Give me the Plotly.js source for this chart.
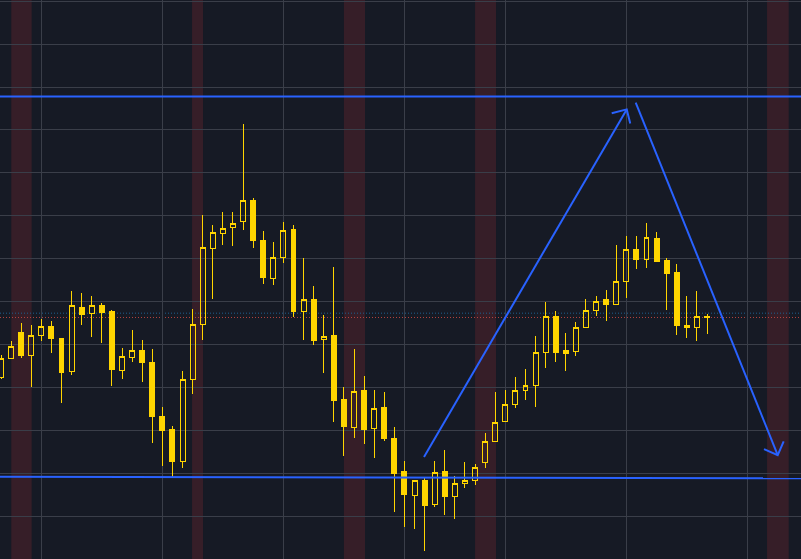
<!DOCTYPE html>
<html>
<head>
<meta charset="utf-8">
<script src="https://cdn.plot.ly/plotly-3.0.1.min.js"></script>
<style>
html,body{margin:0;padding:0;background:#161a25;overflow:hidden;}
#chart{width:801px;height:559px;}
#chart path.box{shape-rendering:crispEdges;}
#chart .gridlayer path{shape-rendering:crispEdges;}
</style>
</head>
<body>
<div id="chart"></div>
<script>
// Candle OHLC values (oldest -> newest)
const openVals = [2312.3,2316.7,2322.9,2317.4,2322.1,2324.1,2321.3,2313.7,2328.7,2327.2,
2329.2,2327.8,2314.0,2317.0,2318.7,2315.9,2303.3,2300.1,2292.8,2311.9,
2324.6,2342.3,2345.8,2347.3,2348.6,2353.6,2344.3,2335.3,2340.3,2346.9,
2327.6,2330.6,2321.1,2322.1,2307.1,2300.6,2309.2,2300.4,2305.4,2298.2,
2290.3,2284.8,2288.2,2282.7,2290.5,2284.6,2287.6,2288.2,2292.5,2297.3,
2302.1,2306.1,2309.2,2310.5,2318.1,2326.6,2318.5,2318.3,2324.0,2328.0,
2330.4,2329.4,2334.7,2342.2,2339.9,2344.8,2339.6,2336.8,2324.5,2324.0,
2326.6];
const highVals = [2317.6,2320.8,2325.0,2324.5,2325.9,2325.5,2321.4,2332.5,2332.0,2331.3,
2329.7,2328.0,2319.2,2323.4,2321.0,2319.0,2305.4,2301.0,2313.8,2328.3,
2350.2,2347.9,2350.9,2350.9,2371.4,2354.1,2346.5,2343.9,2348.6,2347.9,
2340.2,2333.6,2326.9,2338.1,2310.1,2319.0,2312.7,2309.4,2308.9,2300.8,
2292.8,2288.4,2289.1,2292.8,2295.4,2289.3,2292.6,2292.1,2299.4,2308.9,
2309.4,2312.4,2314.3,2322.0,2329.9,2327.8,2322.7,2325.2,2330.6,2331.3,
2332.7,2343.2,2345.3,2345.3,2348.3,2346.2,2340.1,2338.8,2331.3,2332.5,
2327.0];
const lowVals = [2312.0,2316.6,2316.9,2310.2,2320.7,2318.1,2306.4,2313.0,2324.6,2321.8,
2320.4,2310.4,2312.0,2316.0,2311.3,2297.1,2291.7,2289.0,2291.3,2308.4,
2321.0,2330.7,2343.3,2343.0,2346.8,2342.6,2334.2,2333.9,2339.1,2326.5,
2321.1,2319.9,2313.4,2301.9,2294.0,2298.3,2296.9,2293.5,2297.6,2281.0,
2277.5,2277.1,2271.9,2282.2,2280.3,2279.4,2286.6,2287.2,2291.3,2297.2,
2302.0,2305.3,2307.1,2305.5,2314.6,2315.9,2313.8,2317.4,2323.9,2326.7,
2325.5,2329.3,2330.9,2337.7,2337.9,2339.2,2328.1,2322.3,2321.6,2320.7,
2322.5];
const closeVals = [2316.8,2319.6,2317.4,2322.1,2324.1,2321.4,2313.4,2329.0,2326.9,2329.2,
2327.4,2314.1,2317.3,2318.6,2315.8,2303.2,2299.9,2292.7,2311.9,2324.7,
2342.5,2346.2,2347.1,2348.3,2353.6,2344.2,2335.6,2340.3,2346.6,2327.6,
2330.5,2320.9,2321.9,2306.9,2300.8,2309.1,2300.3,2305.1,2298.0,2289.9,
2285.0,2288.2,2282.4,2290.2,2284.5,2287.7,2288.3,2291.4,2297.4,2301.9,
2306.1,2309.3,2310.5,2318.2,2326.6,2318.1,2318.0,2324.0,2328.0,2330.1,
2329.3,2334.7,2342.2,2339.9,2345.0,2339.3,2336.6,2324.4,2323.9,2326.6,
2326.3];

// Session bands (bar-index units)
const bandStart = [1.02, 18.94, 34.0, 47.0, 75.95];
const bandEnd   = [3.04, 20.03, 36.09, 49.08, 78.1];

// Time-grid positions (bar index)
const timeGridIdx = [4, 16, 28, 40, 50, 62, 74];

// Price lines
const markPrice = 2327.3;
const lastPrice = 2326.3;

// Drawn horizontal levels
const levelX = [-1, 81];
const topLevel = [2377.8, 2377.8];
const bottomLevel = [2289.2, 2288.8];

// Drawn arrows (bar index, price)
const arrow1X = [41.94, 62.04];
const arrow1Y = [2293.8, 2374.8];
const head1X = [60.55, 62.04, 62.39];
const head1Y = [2373.9, 2374.8, 2371.5];
const arrow2X = [62.93, 77.01];
const arrow2Y = [2376.4, 2294.2];
const head2X = [75.65, 77.01, 77.60];
const head2Y = [2295.6, 2294.2, 2297.4];

const barIdx = openVals.map((_, i) => i);

const YELLOW = '#FFD500';
const BLUE = '#2962FF';

function lineTrace(x, y, w) {
  return {type: 'scatter', mode: 'lines', x: x, y: y,
    line: {color: BLUE, width: w}, hoverinfo: 'skip', showlegend: false};
}

const traces = [
  {
    type: 'candlestick',
    x: barIdx, open: openVals, high: highVals, low: lowVals, close: closeVals,
    increasing: {line: {color: YELLOW, width: 1}, fillcolor: 'rgba(0,0,0,0)'},
    decreasing: {line: {color: YELLOW, width: 1}, fillcolor: YELLOW},
    whiskerwidth: 0,
    hoverinfo: 'skip',
    showlegend: false
  },
  lineTrace(levelX, topLevel, 2),
  lineTrace(levelX, bottomLevel, 2),
  lineTrace(arrow1X, arrow1Y, 2),
  lineTrace(head1X, head1Y, 2),
  lineTrace(arrow2X, arrow2Y, 2),
  lineTrace(head2X, head2Y, 2)
];

const shapes = [];
bandStart.forEach((s, k) => {
  shapes.push({type: 'rect', xref: 'x', yref: 'paper', x0: s, x1: bandEnd[k], y0: 0, y1: 1,
    fillcolor: '#361e28', line: {width: 0}, layer: 'below'});
});
shapes.push({type: 'line', xref: 'paper', yref: 'y', x0: 0, x1: 1, y0: markPrice, y1: markPrice,
  line: {color: '#1f5f8f', width: 1, dash: '1px,2px'}, layer: 'below'});
shapes.push({type: 'line', xref: 'paper', yref: 'y', x0: 0, x1: 1, y0: lastPrice, y1: lastPrice,
  line: {color: '#b5443f', width: 1, dash: '1px,2px'}, layer: 'below'});

const layout = {
  width: 801, height: 559,
  margin: {l: 0, r: 0, t: 0, b: 0, pad: 0},
  paper_bgcolor: '#161a25',
  plot_bgcolor: '#161a25',
  showlegend: false,
  hovermode: false,
  xaxis: {
    range: [-0.099, 79.318],
    rangeslider: {visible: false},
    tickmode: 'array', tickvals: timeGridIdx,
    showticklabels: false, ticks: '',
    showgrid: true, gridcolor: '#3a3e49', gridwidth: 1,
    zeroline: false, showline: false
  },
  yaxis: {
    range: [2270.0, 2400.3],
    tick0: 2400, dtick: 10,
    showticklabels: false, ticks: '',
    showgrid: true, gridcolor: '#3a3e49', gridwidth: 1,
    zeroline: false, showline: false
  },
  shapes: shapes
};

Plotly.newPlot('chart', traces, layout, {displayModeBar: false, staticPlot: true});
</script>
</body>
</html>
